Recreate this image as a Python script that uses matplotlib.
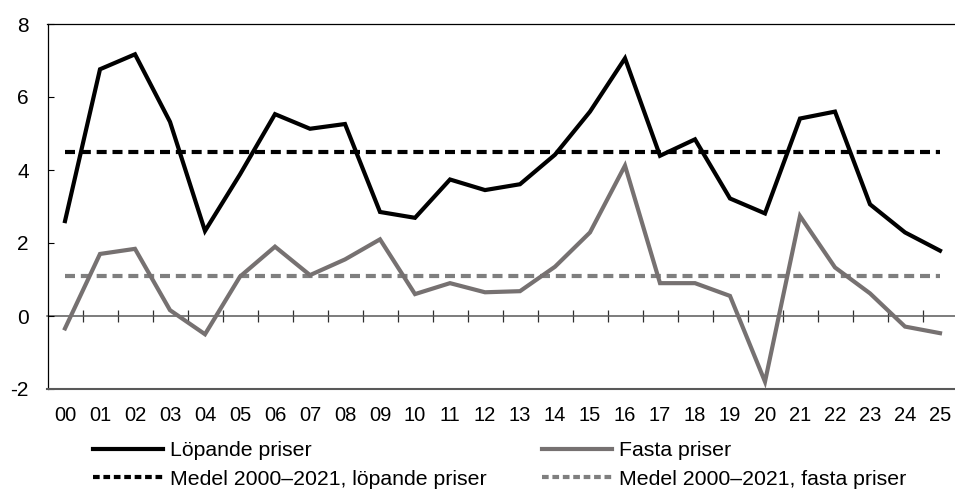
import matplotlib
matplotlib.use("Agg")
import matplotlib.pyplot as plt
from matplotlib.lines import Line2D

plt.rcParams['font.family'] = ['Liberation Sans', 'DejaVu Sans']

years = ["00", "01", "02", "03", "04", "05", "06", "07", "08", "09", "10", "11", "12",
         "13", "14", "15", "16", "17", "18", "19", "20", "21", "22", "23", "24", "25"]
lopande = [2.60, 6.76, 7.17, 5.32, 2.33, 3.88, 5.53, 5.13, 5.26, 2.85, 2.69, 3.74, 3.45,
           3.61, 4.42, 5.60, 7.06, 4.39, 4.84, 3.22, 2.81, 5.41, 5.60, 3.06, 2.29, 1.79]
fasta = [-0.34, 1.70, 1.84, 0.16, -0.50, 1.08, 1.90, 1.12, 1.55, 2.10, 0.60, 0.90, 0.65,
         0.68, 1.35, 2.29, 4.12, 0.90, 0.90, 0.55, -1.80, 2.74, 1.33, 0.62, -0.29, -0.47]
medel_lopande = 4.5
medel_fasta = 1.1

labels = ["Löpande priser", "Fasta priser",
          "Medel 2000–2021, löpande priser", "Medel 2000–2021, fasta priser"]

BLACK = "#000000"
GRAY = "#767171"
GRAY_DASH = "#7f7f7f"

W, H = 955, 493
fig = plt.figure(figsize=(W / 100, H / 100), dpi=100)
ax = fig.add_axes([47.5 / W, (H - 389) / H, 910 / W, 365 / H])

x = list(range(len(years)))
lw = 3.0
dash = (2.4, 1.4)

ax.plot(x, lopande, color=BLACK, lw=lw, solid_joinstyle="miter", zorder=4)
ax.plot(x, fasta, color=GRAY, lw=lw, solid_joinstyle="miter", zorder=3)
ax.hlines(medel_lopande, x[0], x[-1], color=BLACK, lw=lw, linestyles=[(0, dash)], zorder=2)
ax.hlines(medel_fasta, x[0], x[-1], color=GRAY_DASH, lw=lw, linestyles=[(0, dash)], zorder=2)

ax.set_xlim(-0.5, len(years) - 0.5)
ax.set_ylim(-2, 8)
ax.set_yticks([-2, 0, 2, 4, 6, 8])
ax.set_yticklabels(["-2", "0", "2", "4", "6", "8"])
ax.set_xticks(x)
ax.set_xticklabels(years)
ax.tick_params(axis="x", length=0, pad=12.5, labelsize=14.5)
ax.tick_params(axis="y", direction="in", length=4.5, width=0.8, pad=13.5, labelsize=15)

for side in ("left", "top"):
    ax.spines[side].set_color("#000000")
    ax.spines[side].set_linewidth(0.9)
ax.spines["right"].set_visible(False)
ax.spines["bottom"].set_color("#595959")
ax.spines["bottom"].set_linewidth(1.5)

# zero line with category separators
zero_ax = ax.secondary_xaxis(0.2)
zero_ax.set_xticks([i + 0.5 for i in x[:-1]])
zero_ax.set_xticklabels([])
zero_ax.tick_params(direction="inout", length=9, width=0.9, color="#303030")
zero_ax.spines["bottom"].set_color("#595959")
zero_ax.spines["bottom"].set_linewidth(1.1)

h_lop = Line2D([], [], color=BLACK, lw=lw)
h_fas = Line2D([], [], color=GRAY, lw=lw)
h_mlop = Line2D([], [], color=BLACK, lw=lw, linestyle=(0, (1.6, 0.9)))
h_mfas = Line2D([], [], color=GRAY_DASH, lw=lw, linestyle=(0, (1.6, 0.9)))

# legend is filled column by column, so order entries to read row-wise
fig.legend([h_lop, h_mlop, h_fas, h_mfas],
           [labels[0], labels[2], labels[1], labels[3]],
           ncol=2, frameon=False, fontsize=15.35,
           loc="upper left", bbox_to_anchor=(93 / W, 1 - 441 / H),
           handlelength=3.28, handletextpad=0.33, columnspacing=2.58,
           labelspacing=0.45, borderpad=0, borderaxespad=0)

fig.savefig("out.png", dpi=100)
